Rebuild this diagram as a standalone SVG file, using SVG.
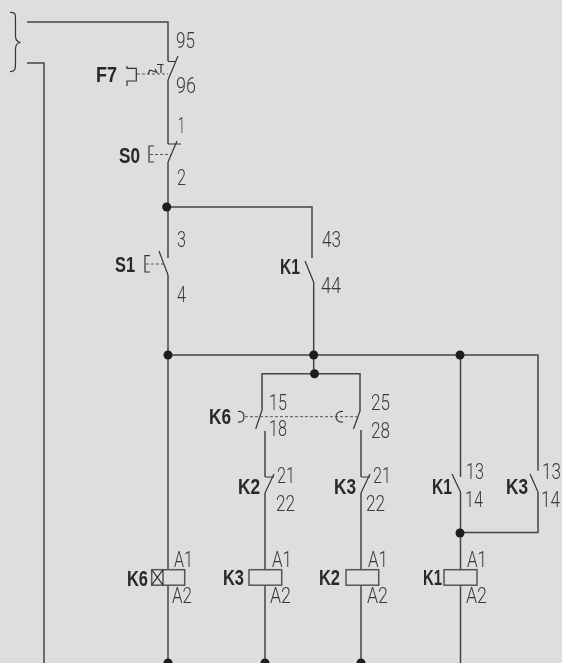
<svg xmlns="http://www.w3.org/2000/svg" width="562" height="663" viewBox="0 0 562 663">
<defs><filter id="g" x="-20%" y="-20%" width="140%" height="140%" color-interpolation-filters="sRGB"><feOffset dx="0" dy="0"/></filter></defs>
<style>
.bg{fill:#dcdee0}
.w{fill:none;stroke:#444;stroke-width:1.5}
.c{fill:none;stroke:#333;stroke-width:1.2}
.d{fill:none;stroke:#555;stroke-width:1;stroke-dasharray:3 2}
.coil{fill:none;stroke:#555;stroke-width:1.5}
.dot{fill:#1e1c1e}
.n{font-family:"Roboto","Liberation Sans",sans-serif;font-weight:300;font-size:22.5px;fill:#3a3a3c;filter:url(#g)}
.b{font-family:"Liberation Sans",sans-serif;font-weight:700;font-size:22px;fill:#2a282a;filter:url(#g)}
</style>
<rect class="bg" width="562" height="663"/>
<g id="connectors">
<path class="c" d="M10 12.500C16 12 15.500 15 15.500 20V36C15.500 40 17 42 20.500 42.500C17 43 15.500 45 15.500 49V64C15.500 69 15 72 10 71.500"/>
<path class="w" d="M27 22H168V61"/>
<path class="w" d="M27 63H44V663"/>
<path class="w" d="M168 80V144"/>
<path class="w" d="M168 162V258"/>
<path class="w" d="M167 207H312V258"/>
<path class="w" d="M168 275V663"/>
<path class="w" d="M313.700 283V355"/>
<path class="w" d="M168 355H538V470.700"/>
<path class="w" d="M313.700 355V373.700"/>
<path class="w" d="M262 411V373.700H360V411"/>
<path class="w" d="M265 431V477"/>
<path class="w" d="M361 430V477"/>
<path class="w" d="M265 493V663"/>
<path class="w" d="M361 493V663"/>
<path class="w" d="M460.500 355V477"/>
<path class="w" d="M460.500 492V663"/>
<path class="w" d="M538 492V532.500H460.500"/>
</g>
<g id="junctions">
<circle class="dot" cx="166.700" cy="207" r="4.500"/>
<circle class="dot" cx="168" cy="355" r="4.500"/>
<circle class="dot" cx="313.700" cy="355" r="4.500"/>
<circle class="dot" cx="460" cy="355" r="4.500"/>
<circle class="dot" cx="314.500" cy="373.700" r="4.500"/>
<circle class="dot" cx="460" cy="533" r="4.500"/>
<circle class="dot" cx="168" cy="663" r="4.500"/>
<circle class="dot" cx="265" cy="663" r="4.500"/>
<circle class="dot" cx="361" cy="663" r="4.500"/>
</g>
<g id="F7">
<path class="c" d="M168 61.500H176M178 56L168 80"/>
<path class="c" d="M127 66V68.300H136.300V81H127V86"/>
<path class="d" d="M137 74H168"/>
<path class="c" d="M148 74L150 70L157 72.500L155 69M157 64.500H163.500M161 64.500V73"/>
<text class="b" x="96" y="82" textLength="21" lengthAdjust="spacingAndGlyphs">F7</text>
<text class="n" x="176" y="48" textLength="19" lengthAdjust="spacingAndGlyphs">95</text>
<text class="n" x="176" y="93" textLength="20" lengthAdjust="spacingAndGlyphs">96</text>
</g>
<g id="S0">
<path class="c" d="M168 144H181M177 141L168 162"/>
<path class="c" d="M154 146H149V162H154"/>
<path class="d" d="M150 154.500H171"/>
<text class="b" x="119" y="163" textLength="21" lengthAdjust="spacingAndGlyphs">S0</text>
<text class="n" x="178" y="133" textLength="7" lengthAdjust="spacingAndGlyphs">1</text>
<text class="n" x="177" y="185" textLength="9" lengthAdjust="spacingAndGlyphs">2</text>
</g>
<g id="S1">
<path class="c" d="M159 251L168 275"/>
<path class="c" d="M150 255.700H145V272H150"/>
<path class="d" d="M146 264H165"/>
<text class="b" x="115" y="272" textLength="20" lengthAdjust="spacingAndGlyphs">S1</text>
<text class="n" x="177" y="247" textLength="9" lengthAdjust="spacingAndGlyphs">3</text>
<text class="n" x="177" y="302" textLength="9" lengthAdjust="spacingAndGlyphs">4</text>
</g>
<g id="K1-43">
<path class="c" d="M305 261L314 283"/>
<text class="b" x="280" y="274" textLength="20" lengthAdjust="spacingAndGlyphs">K1</text>
<text class="n" x="322" y="247" textLength="19" lengthAdjust="spacingAndGlyphs">43</text>
<text class="n" x="321" y="293" textLength="20" lengthAdjust="spacingAndGlyphs">44</text>
</g>
<g id="K6-contacts">
<path class="c" d="M261.700 411L255.700 429M360 411L353.500 429"/>
<path class="d" d="M245 416.700H357"/>
<path class="c" d="M238 411.500C243 411 244 414 244 416.700C244 419.500 243 422.500 238 422"/>
<path class="c" d="M343 411.500C338 411 336 414 336 416.700C336 419.500 338 422.500 343 422"/>
<text class="b" x="209" y="424" textLength="22" lengthAdjust="spacingAndGlyphs">K6</text>
<text class="n" x="269" y="410" textLength="18" lengthAdjust="spacingAndGlyphs">15</text>
<text class="n" x="269" y="436" textLength="18" lengthAdjust="spacingAndGlyphs">18</text>
<text class="n" x="371" y="410" textLength="19" lengthAdjust="spacingAndGlyphs">25</text>
<text class="n" x="371" y="437.700" textLength="19" lengthAdjust="spacingAndGlyphs">28</text>
</g>
<g id="K2-contact">
<path class="c" d="M265 477H274M274 474L265 493"/>
<text class="b" x="238" y="494" textLength="22" lengthAdjust="spacingAndGlyphs">K2</text>
<text class="n" x="277" y="483" textLength="18" lengthAdjust="spacingAndGlyphs">21</text>
<text class="n" x="276" y="510.700" textLength="19" lengthAdjust="spacingAndGlyphs">22</text>
</g>
<g id="K3-contact">
<path class="c" d="M361 477H370M370 474L361 493"/>
<text class="b" x="334" y="494" textLength="22" lengthAdjust="spacingAndGlyphs">K3</text>
<text class="n" x="373" y="483" textLength="18" lengthAdjust="spacingAndGlyphs">21</text>
<text class="n" x="366" y="510.700" textLength="19" lengthAdjust="spacingAndGlyphs">22</text>
</g>
<g id="K1-13">
<path class="c" d="M452 474L460.500 492"/>
<text class="b" x="432" y="494" textLength="20" lengthAdjust="spacingAndGlyphs">K1</text>
<text class="n" x="466" y="479" textLength="18" lengthAdjust="spacingAndGlyphs">13</text>
<text class="n" x="465" y="506.700" textLength="18" lengthAdjust="spacingAndGlyphs">14</text>
</g>
<g id="K3-13">
<path class="c" d="M530 474L538 492"/>
<text class="b" x="506" y="494" textLength="22" lengthAdjust="spacingAndGlyphs">K3</text>
<text class="n" transform="translate(542 479) scale(.76 1)">13</text>
<text class="n" transform="translate(541 507) scale(.76 1)">14</text>
</g>
<g id="K6-coil">
<rect class="bg" x="151.700" y="569.700" width="33" height="15.500"/>
<rect class="coil" x="151.700" y="569.700" width="33" height="15.500"/>
<path class="c" d="M163 569.700V585.200M151.700 569.700L163 585.200M163 569.700L151.700 585.200"/>
<text class="b" x="127" y="586" textLength="21" lengthAdjust="spacingAndGlyphs">K6</text>
<text class="n" x="174" y="567" textLength="19" lengthAdjust="spacingAndGlyphs">A1</text>
<text class="n" x="172" y="603" textLength="20" lengthAdjust="spacingAndGlyphs">A2</text>
</g>
<g id="K3-coil">
<rect class="bg" x="249" y="569.700" width="32.700" height="15.500"/>
<rect class="coil" x="249" y="569.700" width="32.700" height="15.500"/>
<text class="b" x="223" y="585" textLength="21" lengthAdjust="spacingAndGlyphs">K3</text>
<text class="n" x="272" y="567" textLength="20" lengthAdjust="spacingAndGlyphs">A1</text>
<text class="n" x="270" y="603" textLength="21" lengthAdjust="spacingAndGlyphs">A2</text>
</g>
<g id="K2-coil">
<rect class="bg" x="346" y="569.700" width="32.700" height="15.500"/>
<rect class="coil" x="346" y="569.700" width="32.700" height="15.500"/>
<text class="b" x="319" y="585" textLength="21" lengthAdjust="spacingAndGlyphs">K2</text>
<text class="n" x="368" y="567" textLength="20" lengthAdjust="spacingAndGlyphs">A1</text>
<text class="n" x="367" y="603" textLength="21" lengthAdjust="spacingAndGlyphs">A2</text>
</g>
<g id="K1-coil">
<rect class="bg" x="444" y="569.700" width="33" height="15.500"/>
<rect class="coil" x="444" y="569.700" width="33" height="15.500"/>
<text class="b" x="423" y="585" textLength="19" lengthAdjust="spacingAndGlyphs">K1</text>
<text class="n" x="467" y="567" textLength="20" lengthAdjust="spacingAndGlyphs">A1</text>
<text class="n" x="466" y="603" textLength="21" lengthAdjust="spacingAndGlyphs">A2</text>
</g>
</svg>
